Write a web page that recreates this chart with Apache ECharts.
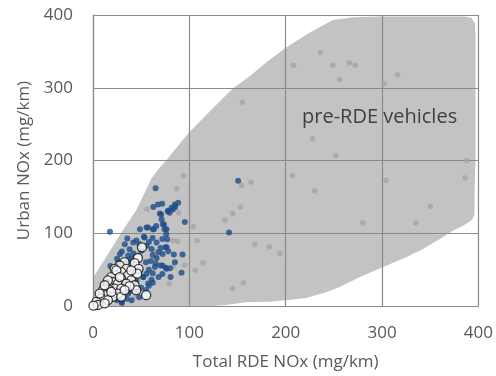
<!DOCTYPE html>
<html>
<head>
<meta charset="utf-8">
<script src="https://cdn.jsdelivr.net/npm/echarts@6/dist/echarts.min.js"></script>
<style>html,body{margin:0;padding:0;background:#fff;}#c{width:496px;height:376px;}</style>
</head>
<body>
<div id="c"></div>
<script>
var xTicks = [0, 100, 200, 300, 400];
var yTicks = [0, 100, 200, 300, 400];
var xName = 'Total RDE NOx (mg/km)';
var yName = 'Urban NOx (mg/km)';
var envelopeLabel = 'pre-RDE vehicles';

// outline of the pre-RDE vehicles envelope [total, urban]
var envelope = [[0,0],[0,39],[14,68],[29,100],[45,132],[61,176],[69,190],[76,200],[88,220],[100,239],[120,266],[145,299],[163,316],[180,335],[200,355],[225,376],[249,393],[270,397],[296,398],[386,398],[393,396],[396.5,388],[397,370],[397,300],[397,200],[396,160],[396,126],[394,120],[392,117],[385,111],[373,103],[360,92],[342,78],[325,67],[300,53],[277,40],[256,26],[242,19],[221,11],[200,8],[183,6],[158,5],[138,1.5],[125,0]];

var preRDE = [[94,179],[87,161],[164,170],[154,166],[153,136],[145,127],[137,118],[89,128],[104,109],[83,90],[88,89],[108,90],[168,85],[183,81],[194,72],[114,59],[95,56],[106,49],[83,54],[79,31],[156,32],[145,24],[207,179],[230,158],[280,114],[350,137],[335,114],[304,173],[386,176],[388,200],[316,318],[302,306],[208,331],[249,331],[266,334],[272,331],[256,311],[236,348],[155,280],[228,230],[252,207],[56,133],[64,75],[44,13],[66,65]];

var blueVeh = [[17.6,102],[65,162],[62.5,136],[71.8,140.5],[78,131],[81.5,135],[85,139.6],[88.4,141.8],[69.4,127],[71.2,119],[73.6,112],[76.3,105.6],[95.3,115.5],[48.7,105.6],[55.6,107.8],[63.2,105.6],[52.8,95.2],[35.6,92.9],[41.8,87.4],[48,85.2],[55.6,82.9],[61.8,93.3],[66,87.4],[60.8,78.4],[70.1,79.7],[75.3,80.7],[78.1,75.2],[83.9,70.7],[92.9,70.7],[64.2,53.5],[70.1,55.7],[75.6,52.6],[91.9,45.8],[80.5,39.9],[60.8,36.2],[55.6,44.4],[28,71.6],[36.6,69.3],[26.3,60.3],[40.1,60.3],[29.7,51.2],[48.7,48.9],[52.2,39.9],[57.3,30.8],[21.1,39.9],[45.2,21.7],[36.6,17.2],[29.7,5.9],[24.5,12.7],[12.4,19.5],[17.6,26.3],[43.5,33.1],[33.2,30.8],[67.4,139.5],[77.7,130.4],[79.5,128.2],[82.9,132.7],[85.3,135.9],[70.8,125.9],[72.5,112.3],[74.3,105.5],[76,98.7],[77,91.9],[65.6,110.1],[62.2,105.5],[57,107.8],[53.6,94.2],[72.2,71.5],[72.2,55.7],[76.4,51.1],[76.4,80.6],[141.2,101],[150.6,172.1],[30,75],[33,85],[38,78],[42,72],[45,90],[50,76],[58,88],[62,70],[68,74],[72,92],[40,65],[35,62],[55,60],[60,62],[66,66],[58,50],[62,45],[68,40],[72,44],[52,40],[58,28],[50,25],[62,32],[48,12],[40,8],[35,10],[55,22],[30,4],[25,8],[38,20],[20,30],[15,15],[10,10],[12,30],[22,48],[28,35],[18,55],[25,65],[45,35],[65,58],[80,52],[85,60]];

var whiteVeh = [[50.8,80.6],[46.6,66],[43.2,58.8],[47.3,51.1],[45.9,44.4],[32.8,60.2],[27.7,55.7],[22.5,51.1],[34.5,51.1],[29.3,46.6],[36.3,42.1],[24.2,42.1],[19,39.8],[29.3,37.5],[39.7,35.3],[20.7,33],[25.9,30.7],[34.5,30.7],[15.5,28.5],[43.2,28.5],[22.5,23.9],[29.3,23.9],[17.3,21.7],[10.4,21.7],[44.9,21.7],[25.9,17.1],[13.8,14.9],[20.7,12.6],[55.2,14.9],[8.6,10.3],[15.5,8.2],[3.4,5.8],[5.2,1.4],[0.5,0.5],[12.1,3.5],[19,19.4],[29.3,12.6],[38,27.2],[39.7,48.9],[24.2,48.9],[27.7,39.8],[15.5,35.3],[12.1,28.5],[6.9,17.1],[32.8,21.7]];

var FONT = '"Open Sans", sans-serif';
var chart = echarts.init(document.getElementById('c'), null, {renderer: 'canvas'});
var gridColor = '#8a8a8a';
chart.setOption({
  animation: false,
  grid: {left: 93, right: 17, top: 15, bottom: 67},
  xAxis: {
    type: 'value', min: xTicks[0], max: xTicks[xTicks.length - 1], interval: 100,
    name: xName, nameLocation: 'middle', nameGap: 48,
    nameTextStyle: {fontFamily: FONT, fontSize: 17, color: '#595959'},
    axisLine: {show: true, lineStyle: {color: gridColor, width: 1.2}},
    axisTick: {show: false},
    axisLabel: {fontFamily: FONT, fontSize: 17, color: '#595959', margin: 19},
    splitLine: {show: true, lineStyle: {color: gridColor, width: 1.2}}
  },
  yAxis: {
    type: 'value', min: yTicks[0], max: yTicks[yTicks.length - 1], interval: 100,
    name: yName, nameLocation: 'middle', nameGap: 60, nameRotate: 90,
    nameTextStyle: {fontFamily: FONT, fontSize: 17, color: '#595959'},
    axisLine: {show: true, lineStyle: {color: gridColor, width: 1.2}},
    axisTick: {show: false},
    axisLabel: {fontFamily: FONT, fontSize: 17, color: '#595959', margin: 20},
    splitLine: {show: true, lineStyle: {color: gridColor, width: 1.2}}
  },
  series: [
    {
      type: 'custom', z: -1, silent: true,
      data: [0],
      renderItem: function (params, api) {
        return {
          type: 'polygon',
          shape: {points: envelope.map(function (p) { return api.coord(p); })},
          style: {fill: '#c3c3c3'}
        };
      }
    },
    {
      type: 'scatter', data: preRDE, symbolSize: 5.5, silent: true,
      itemStyle: {color: '#a5a5a5'}
    },
    {
      type: 'scatter', data: blueVeh, symbolSize: 6, silent: true,
      itemStyle: {color: '#1f4e89'}
    },
    {
      type: 'scatter', data: whiteVeh, symbolSize: 9, silent: true,
      itemStyle: {color: '#ffffff', borderColor: '#111111', borderWidth: 1.3}
    }
  ],
  graphic: [{
    type: 'text', left: 302, top: 107, z: 100,
    style: {text: envelopeLabel, fontFamily: FONT, fontSize: 20, fill: '#404040'}
  }]
});
</script>
</body>
</html>
